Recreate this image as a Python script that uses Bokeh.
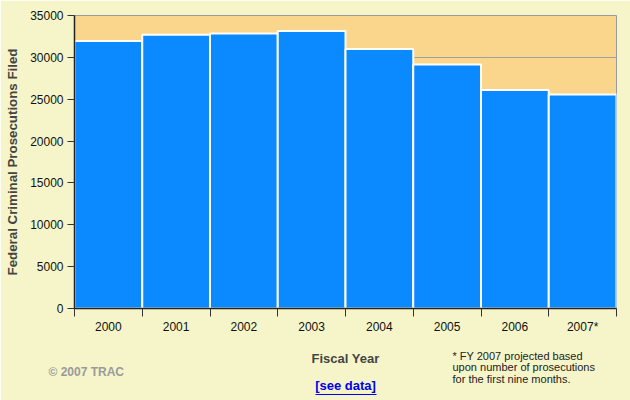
from bokeh.plotting import figure
from bokeh.models import Range1d, FixedTicker, Title, LinearAxis, ColumnDataSource
from bokeh.embed import file_html
from bokeh.resources import INLINE

years = ["2000", "2001", "2002", "2003", "2004", "2005", "2006", "2007*"]
prosecutions = [31950, 32700, 32850, 33150, 31000, 29150, 26100, 25550]
y_ticks = [0, 5000, 10000, 15000, 20000, 25000, 30000, 35000]

FONT = "Liberation Sans"
BG = "#F5F5C9"

pos = [i + 0.5 for i in range(len(years))]
src = ColumnDataSource(dict(x=pos, top=prosecutions, year=years))

p = figure(width=630, height=400, output_backend="svg", toolbar_location=None,
           x_range=Range1d(0, len(years)), y_range=Range1d(0, 35000),
           min_border_left=74, min_border_right=14, min_border_top=15, min_border_bottom=92)
p.background_fill_color = "#FAD68C"
p.border_fill_color = BG
p.outline_line_color = "#9A9A9A"
p.outline_line_width = 1

p.vbar(x="x", top="top", width=1, bottom=0, source=src,
       fill_color="#0B89FF", line_color="white", line_width=2)

p.xgrid.visible = False
p.ygrid.ticker = FixedTicker(ticks=y_ticks)
p.ygrid.grid_line_color = "#A0A0A0"

xa = p.xaxis[0]
xa.ticker = FixedTicker(ticks=pos, minor_ticks=list(range(len(years) + 1)))
xa.major_label_overrides = {p_: y for p_, y in zip(pos, years)}
xa.major_tick_out = 0
xa.major_tick_in = 0
xa.minor_tick_out = 8
xa.minor_tick_in = 0
xa.minor_tick_line_color = "#333333"
xa.major_label_standoff = 3
xa.axis_line_color = "#222222"
xa.axis_line_width = 1.5
xa.major_label_text_font = FONT
xa.major_label_text_font_size = "12px"
xa.major_label_text_color = "#111111"
xa.axis_label = "Fiscal Year"
xa.axis_label_text_font = FONT
xa.axis_label_text_font_style = "bold"
xa.axis_label_text_font_size = "13px"
xa.axis_label_text_color = "#444444"
xa.axis_label_standoff = 14

ya = p.yaxis[0]
ya.ticker = FixedTicker(ticks=y_ticks)
ya.major_tick_out = 7
ya.major_tick_in = 0
ya.minor_tick_out = 0
ya.minor_tick_in = 0
ya.major_tick_line_color = "#333333"
ya.axis_line_color = "#222222"
ya.axis_line_width = 1.5
ya.major_label_standoff = 4
ya.major_label_text_font = FONT
ya.major_label_text_font_size = "12px"
ya.major_label_text_color = "#111111"
ya.axis_label = "Federal Criminal Prosecutions Filed"
ya.axis_label_text_font = FONT
ya.axis_label_text_font_style = "bold"
ya.axis_label_text_font_size = "13.3px"
ya.axis_label_text_color = "#444444"
ya.axis_label_standoff = 7

copy = Title(text="\u00a9 2007 TRAC", align="left", offset=-26, standoff=-7,
             vertical_align="top", text_font=FONT, text_font_size="12px",
             text_font_style="bold", text_color="#9A9A9A")
p.add_layout(copy, "below")
link = Title(text="[see data]", align="center", standoff=0, vertical_align="top",
             text_font=FONT, text_font_size="13px", text_font_style="bold",
             text_color="#0000EE")
p.add_layout(link, "below")
underline = LinearAxis(ticker=FixedTicker(ticks=[]), bounds=(3.56, 4.46),
                       axis_line_color="#0000EE", axis_line_width=1.2,
                       major_tick_out=0, major_tick_in=0, minor_tick_out=0, minor_tick_in=0,
                       major_label_standoff=0, major_label_text_font_size="0px")
p.add_layout(underline, "below")
note = Title(text="* FY 2007 projected based\nupon number of prosecutions\nfor the first nine months.",
             align="left", offset=378, standoff=-89, vertical_align="top",
             text_font=FONT, text_font_size="11px", text_font_style="normal",
             text_color="#222222", text_line_height=0.95)
p.add_layout(note, "below")

open("out.html", "w").write(file_html(p, INLINE))
